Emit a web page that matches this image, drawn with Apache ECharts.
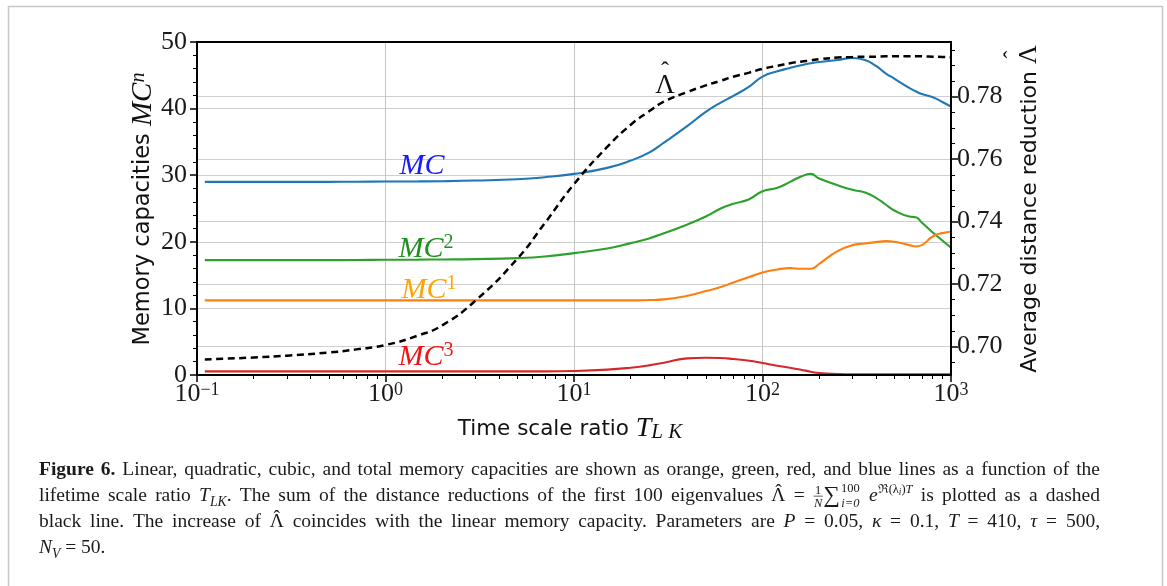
<!DOCTYPE html>
<html>
<head>
<meta charset="utf-8">
<script src="https://cdn.jsdelivr.net/npm/echarts@6/dist/echarts.min.js"></script>
<style>
  html, body { margin: 0; padding: 0; background: #ffffff; }
  #chart { width: 1167px; height: 586px; }
</style>
</head>
<body>
<div id="chart"></div>
<script>
// Time scale ratio T_LK (log axis)
const timeRatio = [0.11, 0.2, 0.3, 0.5, 0.7, 1, 1.5, 2, 3, 5, 7, 10, 15, 20, 25, 30, 40, 50, 60, 70, 85, 100, 120, 140, 160, 180, 200, 250, 300, 350, 400, 450, 500, 600, 650, 700, 800, 900, 1000];

// Memory capacities (left axis)
const mcTotal     = [29.0, 29.0, 29.0, 29.0, 29.02, 29.05, 29.07, 29.1, 29.2, 29.4, 29.7, 30.2, 31.1, 32.2, 33.4, 34.9, 37.4, 39.5, 40.9, 41.9, 43.3, 44.8, 45.6, 46.1, 46.5, 46.8, 47.0, 47.3, 47.6, 47.3, 46.4, 45.3, 44.5, 43.1, 42.6, 42.2, 41.7, 41.0, 40.3];
const mcLinear    = [11.2, 11.2, 11.2, 11.2, 11.2, 11.2, 11.2, 11.2, 11.2, 11.2, 11.2, 11.2, 11.2, 11.2, 11.25, 11.35, 11.9, 12.6, 13.2, 13.9, 14.7, 15.4, 15.85, 16.05, 15.95, 15.95, 16.7, 18.6, 19.5, 19.75, 19.95, 20.1, 20.0, 19.5, 19.3, 19.5, 20.8, 21.3, 21.5];
const mcQuadratic = [17.25, 17.25, 17.25, 17.25, 17.27, 17.3, 17.32, 17.35, 17.4, 17.55, 17.8, 18.3, 19.0, 19.8, 20.5, 21.3, 22.6, 23.8, 25.0, 25.7, 26.4, 27.6, 28.1, 29.0, 29.8, 30.2, 29.5, 28.5, 27.8, 27.4, 26.6, 25.6, 24.7, 23.8, 23.7, 22.9, 21.4, 20.2, 19.1];
const mcCubic     = [0.55, 0.55, 0.55, 0.55, 0.55, 0.55, 0.55, 0.55, 0.55, 0.55, 0.55, 0.6, 0.8, 1.1, 1.45, 1.85, 2.5, 2.6, 2.55, 2.4, 2.15, 1.8, 1.4, 1.1, 0.8, 0.5, 0.3, 0.15, 0.1, 0.1, 0.1, 0.1, 0.1, 0.1, 0.1, 0.1, 0.1, 0.1, 0.1];

// Average distance reduction (right axis)
const lambdaHat   = [0.6959, 0.6965, 0.6971, 0.6981, 0.6991, 0.7005, 0.7036, 0.7068, 0.7147, 0.7281, 0.7395, 0.7520, 0.7639, 0.7710, 0.7753, 0.7784, 0.7815, 0.7836, 0.7851, 0.7864, 0.7877, 0.7889, 0.7899, 0.7907, 0.7912, 0.7916, 0.7920, 0.7925, 0.7927, 0.7928, 0.7928, 0.7929, 0.7929, 0.7929, 0.7929, 0.7929, 0.7928, 0.7927, 0.7926];

// Axis ticks
const xTickExponents = ['−1', '0', '1', '2', '3'];
const xMinorTicks = [0.2, 0.3, 0.4, 0.5, 0.6, 0.7, 0.8, 0.9, 2, 3, 4, 5, 6, 7, 8, 9, 20, 30, 40, 50, 60, 70, 80, 90, 200, 300, 400, 500, 600, 700, 800, 900];
const leftTicks = [0, 10, 20, 30, 40, 50];
const rightTicks = [0.70, 0.72, 0.74, 0.76, 0.78];
const rightMinorTicks = [0.695, 0.705, 0.710, 0.715, 0.725, 0.730, 0.735, 0.745, 0.750, 0.755, 0.765, 0.770, 0.775, 0.785, 0.790, 0.795];
const rightRange = [0.6909, 0.7975];

const SERIF = '"Liberation Serif", "Times New Roman", serif';
const SANS = '"DejaVu Sans", "Liberation Sans", sans-serif';
const X_TITLE_SIZE = 21.5;
const Y_TITLE_SIZE = 22.5;

const chart = echarts.init(document.getElementById('chart'), null, { renderer: 'canvas' });

const measureCtx = document.createElement('canvas').getContext('2d');
function measure(text, size, family, style, weight) {
  measureCtx.font = (style || 'normal') + ' ' + (weight || 'normal') + ' ' + size + 'px ' + family;
  return measureCtx.measureText(text).width;
}

const pairs = vals => timeRatio.map((t, i) => [t, vals[i]]);

const tagRich = color => ({
  m: { fontFamily: SERIF, fontStyle: 'italic', fontSize: 30, lineHeight: 32, color: color },
  s: { fontFamily: SERIF, fontSize: 20, lineHeight: 12, verticalAlign: 'top', color: color },
  l: { fontFamily: SERIF, fontSize: 27, lineHeight: 30, color: color },
  h: { fontFamily: SERIF, fontSize: 24, lineHeight: 24, color: color }
});

function curveTag(items, color) {
  return {
    symbol: 'circle',
    symbolSize: 0,
    silent: true,
    animation: false,
    label: { show: true, position: 'inside', rich: tagRich(color) },
    data: items.map(it => ({ coord: it.coord, label: { formatter: it.text, offset: it.offset || [0, 0] } }))
  };
}

function lineSeries(name, vals, color, tag) {
  return {
    name: name,
    type: 'line',
    data: pairs(vals),
    showSymbol: false,
    symbol: 'none',
    smooth: 0.5,
    clip: true,
    lineStyle: { color: color, width: 2.1 },
    z: 3,
    markPoint: tag
  };
}

// ---- caption layout (runs placed word by word, justified) ----
const CAP_LEFT = 39, CAP_RIGHT = 1100;
const capBase = {
  r:     { size: 1 },
  b:     { size: 1, weight: 'bold' },
  i:     { size: 1, style: 'italic' },
  sub:   { size: 0.70, style: 'italic' },
  tiny:  { size: 0.64 },
  tinyi: { size: 0.64, style: 'italic' },
  micro: { size: 0.48, style: 'italic' },
  sum:   { size: 1.2 }
};

const captionLines = [
  [{ t: 'Figure 6.', f: 'b' }, { t: ' Linear, quadratic, cubic, and total memory capacities are shown as orange, green, red, and blue lines as a function of the', f: 'r' }],
  [{ t: 'lifetime scale ratio ', f: 'r' }, { t: 'T', f: 'i' }, { t: 'LK', f: 'sub', dy: 0.22 },
   { t: '. The sum of the distance reductions of the first 100 eigenvalues ', f: 'r' }, { t: 'Λ', f: 'r', hat: true }, { t: ' = ', f: 'r' },
   { stack: [{ t: '1', f: 'tiny', dy: -0.38 }, { t: 'N', f: 'tinyi', dy: 0.28 }], bar: true },
   { t: '∑', f: 'sum', dy: 0.05 },
   { stack: [{ t: '100', f: 'tiny', dy: -0.5 }, { t: 'i=0', f: 'tinyi', dy: 0.28 }] },
   { t: ' e', f: 'i' }, { t: 'ℜ(λ', f: 'tiny', dy: -0.45 }, { t: 'i', f: 'micro', dy: -0.32 }, { t: ')', f: 'tiny', dy: -0.45 }, { t: 'T', f: 'tinyi', dy: -0.45 },
   { t: ' is plotted as a dashed', f: 'r' }],
  [{ t: 'black line. The increase of ', f: 'r' }, { t: 'Λ', f: 'r', hat: true }, { t: ' coincides with the linear memory capacity. Parameters are ', f: 'r' },
   { t: 'P', f: 'i' }, { t: ' = 0.05, ', f: 'r' }, { t: 'κ', f: 'i' }, { t: ' = 0.1, ', f: 'r' },
   { t: 'T', f: 'i' }, { t: ' = 410, ', f: 'r' }, { t: 'τ', f: 'i' }, { t: ' = 500,', f: 'r' }],
  [{ t: 'N', f: 'i' }, { t: 'V', f: 'sub', dy: 0.22 }, { t: ' = 50.', f: 'r' }]
];

function captionGraphics(left, right, baselines) {
  // base size chosen so that the first line fills the text block at natural spacing
  const probe = 20;
  const capW = (text, key, s) => { const f = capBase[key]; return measure(text, f.size * s, SERIF, f.style, f.weight); };
  const firstNatural = captionLines[0].reduce((a, r) => a + capW(r.t, r.f, probe), 0);
  const S = Math.min(19.5, probe * (right - left) / firstNatural);
  const out = [];
  captionLines.forEach((runs, li) => {
    const tokens = [];
    runs.forEach(run => {
      if (run.stack) {
        const w = Math.max(...run.stack.map(s => capW(s.t, s.f, S)));
        tokens.push({ stack: run.stack, bar: run.bar, w: w + 2 });
        return;
      }
      run.t.split(/( )/).forEach(piece => {
        if (piece === '') return;
        if (piece === ' ') tokens.push({ space: true, w: capW(' ', run.f, S) });
        else tokens.push({ t: piece, f: run.f, dy: run.dy || 0, hat: run.hat, w: capW(piece, run.f, S) });
      });
    });
    const natural = tokens.reduce((a, k) => a + k.w, 0);
    const nSpaces = tokens.filter(k => k.space).length;
    const justify = li < captionLines.length - 1;
    const extra = justify && nSpaces ? (right - left - natural) / nSpaces : 0;
    const base = baselines[li];
    let x = left;
    const put = (text, key, px, dy) => {
      const f = capBase[key];
      const size = f.size * S;
      out.push({
        type: 'text', silent: true, x: px, y: base - 0.3 * size + dy * S,
        style: {
          text: text, fill: '#1a1a1a', align: 'left', verticalAlign: 'middle',
          fontFamily: SERIF, fontSize: size, fontStyle: f.style || 'normal', fontWeight: f.weight || 'normal'
        }
      });
    };
    tokens.forEach(k => {
      if (k.space) { x += k.w + extra; return; }
      if (k.stack) {
        k.stack.forEach(it => put(it.t, it.f, x + (k.w - capW(it.t, it.f, S)) / 2, it.dy));
        if (k.bar) {
          out.push({ type: 'line', silent: true, shape: { x1: x + 0.5, y1: base - 0.3 * S, x2: x + k.w - 0.5, y2: base - 0.3 * S }, style: { stroke: '#1a1a1a', lineWidth: 0.7 } });
        }
      } else {
        put(k.t, k.f, x, k.dy);
        if (k.hat) {
          const hw = capW('ˆ', k.f, S);
          put('ˆ', k.f, x + (k.w - hw) / 2, -0.22);
        }
      }
      x += k.w;
    });
  });
  return out;
}

// right axis title: text followed by a hatted Lambda
function rightTitle(cx, cy) {
  const size = Y_TITLE_SIZE - 0.5;
  const wText = measure('Average distance reduction ', size, SANS);
  const wL = measure('Λ', 26, SERIF);
  const total = wText + wL;
  const lx = -total / 2 + wText;
  const color = '#111';
  return {
    type: 'group', x: cx, y: cy, rotation: Math.PI / 2, silent: true,
    children: [
      { type: 'text', x: -total / 2, y: 0, style: { text: 'Average distance reduction ', fontFamily: SANS, fontSize: size, fill: color, align: 'left', verticalAlign: 'middle' } },
      { type: 'text', x: lx, y: -1, style: { text: 'Λ', fontFamily: SERIF, fontSize: 26, fill: color, align: 'left', verticalAlign: 'middle' } },
      { type: 'text', x: lx + wL / 2, y: -16, style: { text: 'ˆ', fontFamily: SERIF, fontSize: 24, fill: color, align: 'center', verticalAlign: 'middle' } }
    ]
  };
}

const option = {
  backgroundColor: '#ffffff',
  animation: false,
  grid: { left: 197, right: 216, top: 42, bottom: 211, show: true, borderColor: '#000000', borderWidth: 2, backgroundColor: 'transparent', z: 5 },
  xAxis: [
    {
      type: 'log', logBase: 10, min: 0.1, max: 1000, position: 'bottom',
      axisLine: { show: true, onZero: false, lineStyle: { color: '#000', width: 2 } },
      axisTick: { show: true, inside: false, length: 7, lineStyle: { color: '#000', width: 1.5 } },
      axisLabel: {
        margin: 6,
        formatter: v => '{b|10}{s|' + xTickExponents[Math.round(Math.log10(v)) + 1] + '}',
        rich: {
          b: { fontFamily: SERIF, fontSize: 26, lineHeight: 26, color: '#1a1a1a' },
          s: { fontFamily: SERIF, fontSize: 18, lineHeight: 13, verticalAlign: 'top', color: '#1a1a1a' }
        }
      },
      splitLine: { show: true, lineStyle: { color: '#c4c4c4', width: 1 } },
      minorTick: { show: false }
    },
    {
      type: 'log', logBase: 10, min: 0.1, max: 1000, position: 'bottom',
      axisLine: { show: false, onZero: false },
      axisTick: { show: true, inside: false, length: 4, lineStyle: { color: '#000', width: 1 }, customValues: xMinorTicks },
      axisLabel: { show: false },
      splitLine: { show: false }
    }
  ],
  yAxis: [
    {
      type: 'value', position: 'left', min: leftTicks[0], max: leftTicks[leftTicks.length - 1], interval: 10,
      axisLine: { show: true, onZero: false, lineStyle: { color: '#000', width: 2 } },
      axisTick: { show: true, inside: false, length: 7, lineStyle: { color: '#000', width: 1.5 } },
      minorTick: { show: true, splitNumber: 5, length: 4, lineStyle: { color: '#000', width: 1 } },
      axisLabel: { margin: 10, fontFamily: SERIF, fontSize: 26, color: '#1a1a1a' },
      splitLine: { show: true, lineStyle: { color: '#cfcfcf', width: 1 } }
    },
    {
      type: 'value', position: 'right', min: rightRange[0], max: rightRange[1],
      axisLine: { show: true, onZero: false, lineStyle: { color: '#000', width: 2 } },
      axisTick: { show: true, inside: false, length: 7, lineStyle: { color: '#000', width: 1.5 }, customValues: rightTicks },
      axisLabel: { margin: 6, fontFamily: SERIF, fontSize: 26, color: '#1a1a1a', customValues: rightTicks, formatter: v => v.toFixed(2) },
      splitLine: { show: true, lineStyle: { color: '#cfcfcf', width: 1 } }
    },
    {
      type: 'value', position: 'right', min: rightRange[0], max: rightRange[1],
      axisLine: { show: false },
      axisTick: { show: true, inside: false, length: 4, lineStyle: { color: '#000', width: 1 }, customValues: rightMinorTicks },
      axisLabel: { show: false },
      splitLine: { show: false }
    }
  ],
  series: [
    lineSeries('MC', mcTotal, '#1f77b4', curveTag([{ coord: [1.56, 31.4], text: '{m|MC}' }], '#1a1aff')),
    lineSeries('MC2', mcQuadratic, '#2ca02c', curveTag([{ coord: [1.64, 18.9], text: '{m|MC}{s|2}' }], '#1f8f1f')),
    lineSeries('MC1', mcLinear, '#ff7f0e', curveTag([{ coord: [1.70, 12.8], text: '{m|MC}{s|1}' }], '#ffa500')),
    lineSeries('MC3', mcCubic, '#d62728', curveTag([{ coord: [1.64, 2.7], text: '{m|MC}{s|3}' }], '#f01515')),
    {
      name: 'Lambda', type: 'line', yAxisIndex: 1,
      data: pairs(lambdaHat),
      showSymbol: false, symbol: 'none', smooth: 0.5, clip: true,
      lineStyle: { color: '#000000', width: 2.5, type: [7, 4.5] },
      z: 4,
      markPoint: curveTag([
        { coord: [30.4, 0.7834], text: '{l|Λ}' },
        { coord: [30.4, 0.7834], text: '{h|ˆ}', offset: [0, -14] }
      ], '#111111')
    }
  ],
  graphic: [
    // figure frame
    { type: 'rect', silent: true, shape: { x: 8.5, y: 6.5, width: 1154, height: 600 }, style: { fill: 'none', stroke: '#c8c8c8', lineWidth: 1.5 } },
    // left axis title
    {
      type: 'text', silent: true, x: 143, y: 209, rotation: Math.PI / 2,
      style: {
        text: '{t|Memory capacities }{i|MC}{s|n}', align: 'center', verticalAlign: 'middle',
        rich: {
          t: { fontFamily: SANS, fontSize: Y_TITLE_SIZE, lineHeight: 28, fill: '#111' },
          i: { fontFamily: SERIF, fontStyle: 'italic', fontSize: 29, lineHeight: 28, fill: '#111' },
          s: { fontFamily: SERIF, fontStyle: 'italic', fontSize: 20, lineHeight: 12, verticalAlign: 'top', fill: '#111' }
        }
      }
    },
    rightTitle(1030, 209),
    // x axis title
    {
      type: 'text', silent: true, x: 570, y: 429,
      style: {
        text: '{t|Time scale ratio }{i|T}{s|L K}', align: 'center', verticalAlign: 'middle',
        rich: {
          t: { fontFamily: SANS, fontSize: X_TITLE_SIZE, lineHeight: 28, fill: '#111' },
          i: { fontFamily: SERIF, fontStyle: 'italic', fontSize: 28, lineHeight: 28, fill: '#111' },
          s: { fontFamily: SERIF, fontStyle: 'italic', fontSize: 21, lineHeight: 16, verticalAlign: 'bottom', fill: '#111' }
        }
      }
    }
  ].concat(captionGraphics(CAP_LEFT, CAP_RIGHT, [476, 502, 528, 554]))
};

chart.setOption(option);
</script>
</body>
</html>
